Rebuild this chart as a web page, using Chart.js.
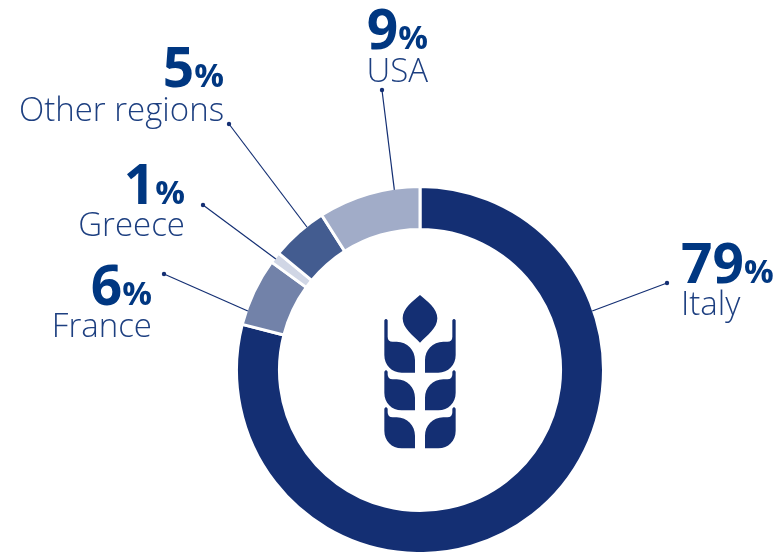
<!DOCTYPE html>
<html>
<head>
<meta charset="utf-8">
<style>
  html, body { margin: 0; padding: 0; background: #fff; }
  #wrap { width: 778px; height: 552px; }
</style>
<script src="https://cdn.jsdelivr.net/npm/chart.js@4/dist/chart.umd.min.js"></script>
</head>
<body>
<div id="wrap"><canvas id="donut" width="778" height="552"></canvas></div>
<script>
const regions = ["Italy", "France", "Greece", "Other regions", "USA"];
const shares = [79, 6, 1, 5, 9];
const sliceColors = ["#142f73", "#7282a9", "#d0d6e5", "#435c90", "#a1acc8"];

// where each leader leaves its slice (fraction along the arc) and where its dot sits
const leaderAlong = [0.25, 0.21, 0.45, 0.67, 0.75];
const leaderDots = [[667, 283], [164, 274], [203, 205], [229, 124], [382, 90]];

// baselines and x of the text blocks; the anchor says which edge x refers to
const textX = [681, 152, 185, 224, 428];
const textAlign = ["left", "right", "right", "right", "right"];
const valueBase = [283, 305, 204, 87, 49];
const nameBase = [315, 337, 236, 121, 82];

const valueColor = "#003781";
const nameColor = "#1d3f80";
const fontFamily = '"Open Sans", sans-serif';

function drawLabels(ctx, i) {
  const x = textX[i];
  const value = String(shares[i]);
  ctx.textBaseline = "alphabetic";

  ctx.font = "700 55px " + fontFamily;
  const valueW = ctx.measureText(value).width;
  ctx.font = "700 33px " + fontFamily;
  const pctW = ctx.measureText("%").width;
  const left = textAlign[i] === "left" ? x : x - valueW - pctW;

  ctx.textAlign = "left";
  ctx.fillStyle = valueColor;
  ctx.font = "700 55px " + fontFamily;
  ctx.fillText(value, left, valueBase[i]);
  ctx.font = "700 33px " + fontFamily;
  ctx.fillText("%", left + valueW, valueBase[i]);

  ctx.textAlign = textAlign[i];
  ctx.fillStyle = nameColor;
  ctx.font = "300 33px " + fontFamily;
  ctx.fillText(regions[i], x, nameBase[i]);
}

function drawLeader(ctx, arc, i) {
  const angle = arc.startAngle + (arc.endAngle - arc.startAngle) * leaderAlong[i];
  const fromX = arc.x + Math.cos(angle) * (arc.outerRadius - 1.5);
  const fromY = arc.y + Math.sin(angle) * (arc.outerRadius - 1.5);
  const dot = leaderDots[i];

  ctx.strokeStyle = sliceColors[0];
  ctx.lineWidth = 1.2;
  ctx.beginPath();
  ctx.moveTo(fromX, fromY);
  ctx.lineTo(dot[0], dot[1]);
  ctx.stroke();

  ctx.fillStyle = sliceColors[0];
  ctx.beginPath();
  ctx.arc(dot[0], dot[1], 2.2, 0, Math.PI * 2);
  ctx.fill();
}

// wheat ear in the hole, units are a third of a pixel around the stalk
function drawWheat(ctx, cx, cy) {
  const side = (m, stripTop, t) => {
    ctx.beginPath();
    ctx.moveTo(-m * 107, stripTop + 3);
    ctx.quadraticCurveTo(-m * 102, stripTop - 5, -m * 97, stripTop + 3);
    ctx.lineTo(-m * 97, t - 15);
    ctx.quadraticCurveTo(-m * 97, t, -m * 82, t);
    ctx.lineTo(-m * 70, t);
    ctx.bezierCurveTo(-m * 38, t, -m * 15, t + 25, -m * 15, t + 55);
    ctx.lineTo(-m * 15, t + 93);
    ctx.lineTo(-m * 55, t + 93);
    ctx.bezierCurveTo(-m * 85, t + 93, -m * 107, t + 70, -m * 107, t + 40);
    ctx.closePath();
    ctx.fill();
  };

  ctx.save();
  ctx.translate(cx, cy);
  ctx.scale(1 / 3, 1 / 3);
  ctx.translate(0, -270);
  ctx.fillStyle = sliceColors[0];

  ctx.beginPath();
  ctx.moveTo(0, 45);
  ctx.bezierCurveTo(20, 62, 52, 85, 52, 115);
  ctx.bezierCurveTo(52, 145, 22, 165, 0, 188);
  ctx.bezierCurveTo(-22, 165, -52, 145, -52, 115);
  ctx.bezierCurveTo(-52, 85, -20, 62, 0, 45);
  ctx.fill();

  [[118, 185], [272, 298], [383, 412]].forEach((row) => {
    side(1, row[0], row[1]);
    side(-1, row[0], row[1]);
  });
  ctx.restore();
}

const annotations = {
  id: "annotations",
  afterDatasetsDraw(chart) {
    const ctx = chart.ctx;
    const arcs = chart.getDatasetMeta(0).data;
    ctx.save();
    arcs.forEach((arc, i) => {
      drawLeader(ctx, arc, i);
      drawLabels(ctx, i);
    });
    drawWheat(ctx, arcs[0].x, arcs[0].y);
    ctx.restore();
  },
};

new Chart(document.getElementById("donut"), {
  type: "doughnut",
  data: {
    labels: regions,
    datasets: [
      {
        data: shares,
        backgroundColor: sliceColors,
        borderColor: "#ffffff",
        borderWidth: 3,
        borderAlign: "center",
      },
    ],
  },
  options: {
    responsive: false,
    animation: false,
    radius: 183.5,
    cutout: "76.6%",
    layout: { padding: { left: 238, right: 176, top: 188, bottom: 0 } },
    plugins: { legend: { display: false }, tooltip: { enabled: false } },
  },
  plugins: [annotations],
});
</script>
</body>
</html>
